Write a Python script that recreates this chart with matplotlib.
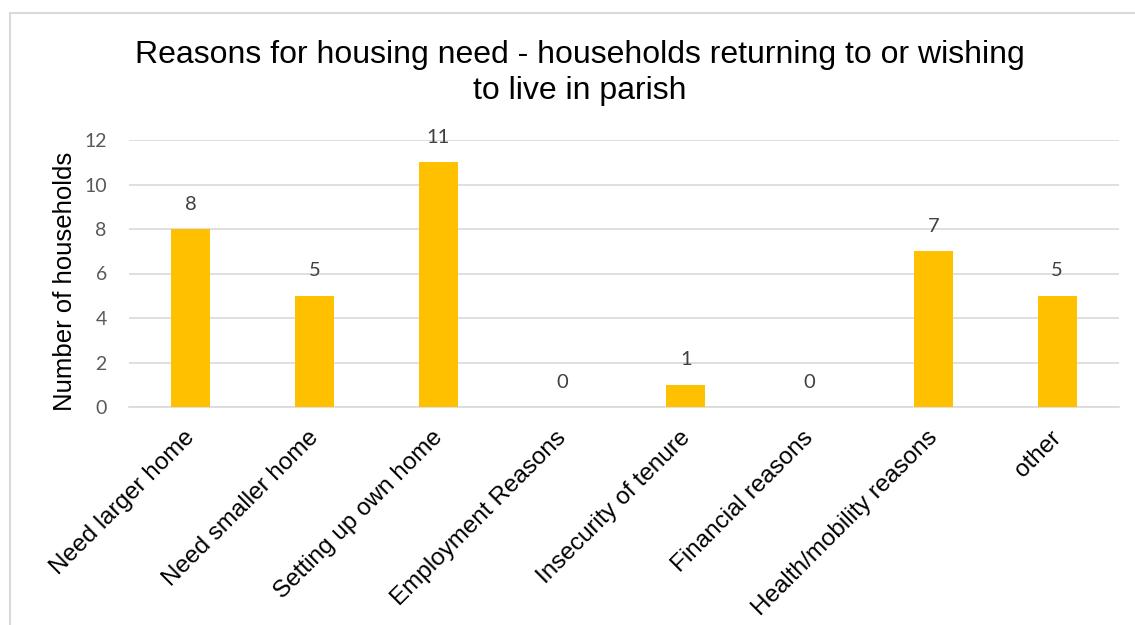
import matplotlib
matplotlib.use('Agg')
import matplotlib.pyplot as plt
import matplotlib.transforms as mtransforms
from matplotlib.patches import Rectangle

# chart data
reasons = ['Need larger home', 'Need smaller home', 'Setting up own home',
           'Employment Reasons', 'Insecurity of tenure', 'Financial reasons',
           'Health/mobility reasons', 'other']
households = [8, 5, 11, 0, 1, 0, 7, 5]
y_ticks = [0, 2, 4, 6, 8, 10, 12]

plt.rcParams['font.family'] = ['Liberation Sans', 'DejaVu Sans']
num_font = ['Lato', 'DejaVu Sans']

fig = plt.figure(figsize=(11.35, 6.25), dpi=100)
ax = fig.add_axes([129/1135, 1-407/625, 990/1135, 267/625])

# outer chart border (cropped on right/bottom)
fig.patches.append(Rectangle((10/1135, -0.1), 1.2, 1.1 - 13/625,
                             transform=fig.transFigure, fill=False,
                             edgecolor='#d9d9d9', linewidth=1.5))

x = range(len(reasons))
bars = ax.bar(x, households, width=0.315, color='#ffc000', zorder=3)

for xi, v in zip(x, households):
    ax.annotate(str(v), (xi, v), xytext=(0, 18), textcoords='offset points',
                ha='center', va='center', fontsize=14.5, color='#404040',
                family=num_font)

ax.set_xlim(-0.5, len(reasons) - 0.5)
ax.set_ylim(0, 12)
ax.set_yticks(y_ticks)
ax.yaxis.grid(True, color='#d9d9d9', linewidth=1.2, zorder=0)
ax.set_axisbelow(True)
for s in ['top', 'right', 'left']:
    ax.spines[s].set_visible(False)
ax.spines['bottom'].set_color('#d9d9d9')
ax.spines['bottom'].set_linewidth(1.2)
ax.tick_params(axis='both', length=0)
ax.tick_params(axis='y', labelsize=14, labelcolor='#595959', pad=16)
for lab in ax.get_yticklabels():
    lab.set_family(num_font)
ax.set_xticks(list(x))
ax.set_xticklabels(reasons, rotation=45, ha='right', va='top',
                   rotation_mode='anchor', fontsize=17.5)
ax.tick_params(axis='x', pad=14)
shift = mtransforms.ScaledTranslation(-7/100, 0, fig.dpi_scale_trans)
for lab in ax.get_xticklabels():
    lab.set_transform(lab.get_transform() + shift)
ax.set_ylabel('Number of households', fontsize=18.5)
ax.yaxis.set_label_coords(-52/990, 0.47)

fig.text(580/1135, 1-73/625,
         'Reasons for housing need - households returning to or wishing\nto live in parish',
         ha='center', va='center', fontsize=23, linespacing=1.22)

fig.savefig('out.png', dpi=100)
